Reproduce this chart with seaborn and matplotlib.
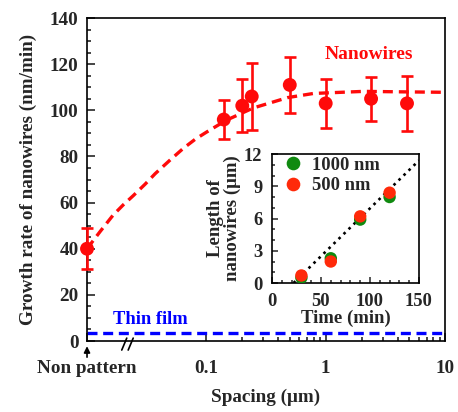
import pandas as pd
import seaborn as sns
import matplotlib.pyplot as plt

# main panel: growth rate vs spacing ("Non pattern" sits at the left edge, x=0.01)
spacing = [0.01, 0.14, 0.2, 0.24, 0.5, 1.0, 2.4, 4.8]
rate = [40, 96, 102, 106, 111, 103, 105, 103]
rate_err = [9, 8.5, 11.5, 14.5, 12, 10.5, 9.5, 12]

# dashed guide curve
fit_x = [0.01, 0.0129, 0.0165, 0.0201, 0.0244, 0.0307, 0.0372, 0.0498, 0.0641,
         0.0809, 0.1, 0.147, 0.247, 0.48, 0.79, 2.08, 4.27, 10]
fit_y = [40, 47.5, 54.5, 59, 63, 68, 72.5, 78.5, 83.5,
         87.5, 90.5, 95.7, 101, 105.5, 107.3, 108.2, 108, 107.8]

thin_x = [0.01, 10]
thin_y = [3.5, 3.5]

# inset: nanowire length vs growth time
time_min = [30, 60, 90, 120]
len_1000 = [0.5, 2.3, 5.9, 8.0]
len_500 = [0.7, 2.0, 6.2, 8.4]
trend_x = [22, 150]
trend_y = [0, 11.4]

sns.set_style("ticks")
plt.rcParams['font.family'] = ['Liberation Serif', 'DejaVu Serif']
plt.rcParams['font.weight'] = 'bold'
plt.rcParams['axes.labelweight'] = 'bold'
plt.rcParams['axes.edgecolor'] = 'black'
plt.rcParams['axes.linewidth'] = 1.2

RED = '#ff0a0a'
FS = 13.8

fig = plt.figure(figsize=(4.58, 4.12), dpi=100)
ax = fig.add_axes([0.19, 0.1723, 0.7817, 0.784])

sns.lineplot(x=fit_x, y=fit_y, ax=ax, color=RED, lw=2.4, linestyle=(0, (3, 1.8)))
sns.lineplot(x=thin_x, y=thin_y, ax=ax, color='#0000ff', lw=2.4, linestyle=(0, (3, 1.7)))
ax.errorbar(spacing, rate, yerr=rate_err, fmt='none', ecolor=RED, elinewidth=1.9,
            capsize=4, capthick=1.9, clip_on=False, zorder=3)
sns.scatterplot(x=spacing, y=rate, ax=ax, color=RED, s=100, edgecolor='none',
                clip_on=False, zorder=4)

ax.set_xscale('log')
ax.set_xlim(0.01, 10)
ax.set_ylim(0, 140)
ax.set_xticks([0.01, 0.1, 1, 10], labels=['Non pattern', '0.1', '1', '10'])
ax.set_xticks([0.2, 0.3, 0.4, 0.5, 0.6, 0.7, 0.8, 0.9, 2, 3, 4, 5, 6, 7, 8, 9], minor=True)
ax.xaxis.set_minor_formatter(plt.NullFormatter())
ax.set_yticks(range(0, 141, 20))
ax.set_yticks(range(0, 141, 5), minor=True)
ax.tick_params(which='both', direction='in', width=1.2, labelsize=FS)
ax.tick_params(which='major', length=6)
ax.tick_params(which='minor', length=3)
ax.tick_params(axis='x', which='major', pad=14)
ax.tick_params(axis='y', which='major', pad=6)

ax.set_xlabel('Spacing (μm)', fontsize=FS, labelpad=8)
ax.set_ylabel('Growth rate of nanowires (nm/min)', fontsize=FS, labelpad=9)

ax.text(2.3, 124, 'Nanowires', color=RED, fontsize=14, fontweight='bold', ha='center', va='center')
ax.text(0.034, 9.2, 'Thin film', color='#0000ff', fontsize=13.3, fontweight='bold', ha='center', va='center')

# arrow under "Non pattern" and the axis break marks
ax.annotate('', xy=(0, -0.016), xytext=(0, -0.05), xycoords='axes fraction',
            arrowprops=dict(arrowstyle='-|>', color='black', lw=1.2, mutation_scale=9,
                            shrinkA=0, shrinkB=0),
            annotation_clip=False)
for x0 in [0.097, 0.115]:
    ax.plot([x0, x0 + 0.014], [-0.028, 0.009], color='black', lw=1.2,
            transform=ax.transAxes, clip_on=False)

# inset
ins = fig.add_axes([0.5939, 0.3131, 0.3209, 0.3131])
df_in = pd.DataFrame({
    'Time': time_min + time_min,
    'Length': len_1000 + len_500,
    'Spacing': ['1000 nm'] * 4 + ['500 nm'] * 4,
})
sns.lineplot(x=trend_x, y=trend_y, ax=ins, color='black', lw=1.9, linestyle=':')
sns.scatterplot(data=df_in, x='Time', y='Length', hue='Spacing', ax=ins,
                palette={'1000 nm': '#108a10', '500 nm': '#ff2a0a'},
                s=80, edgecolor='none', zorder=3)
ins.set_xlim(0, 150)
ins.set_ylim(0, 12)
ins.set_xticks([0, 50, 100, 150])
ins.set_xticks(range(0, 151, 10), minor=True)
ins.set_yticks([0, 3, 6, 9, 12])
ins.set_yticks(range(0, 13), minor=True)
ins.tick_params(which='both', direction='in', width=1.1, labelsize=13.3, pad=7)
ins.tick_params(which='major', length=4)
ins.tick_params(which='minor', length=2)
ins.set_xlabel('Time (min)', fontsize=13.5, labelpad=0)
ins.set_ylabel('Length of\nnanowires (μm)', fontsize=13.5, labelpad=2, linespacing=0.95)
leg = ins.legend(loc='upper left', frameon=False, fontsize=13.3, handletextpad=0.0,
                 borderaxespad=0.05, labelspacing=0.2, borderpad=0.1, markerscale=1.1)

fig.savefig('out.png', dpi=100)
